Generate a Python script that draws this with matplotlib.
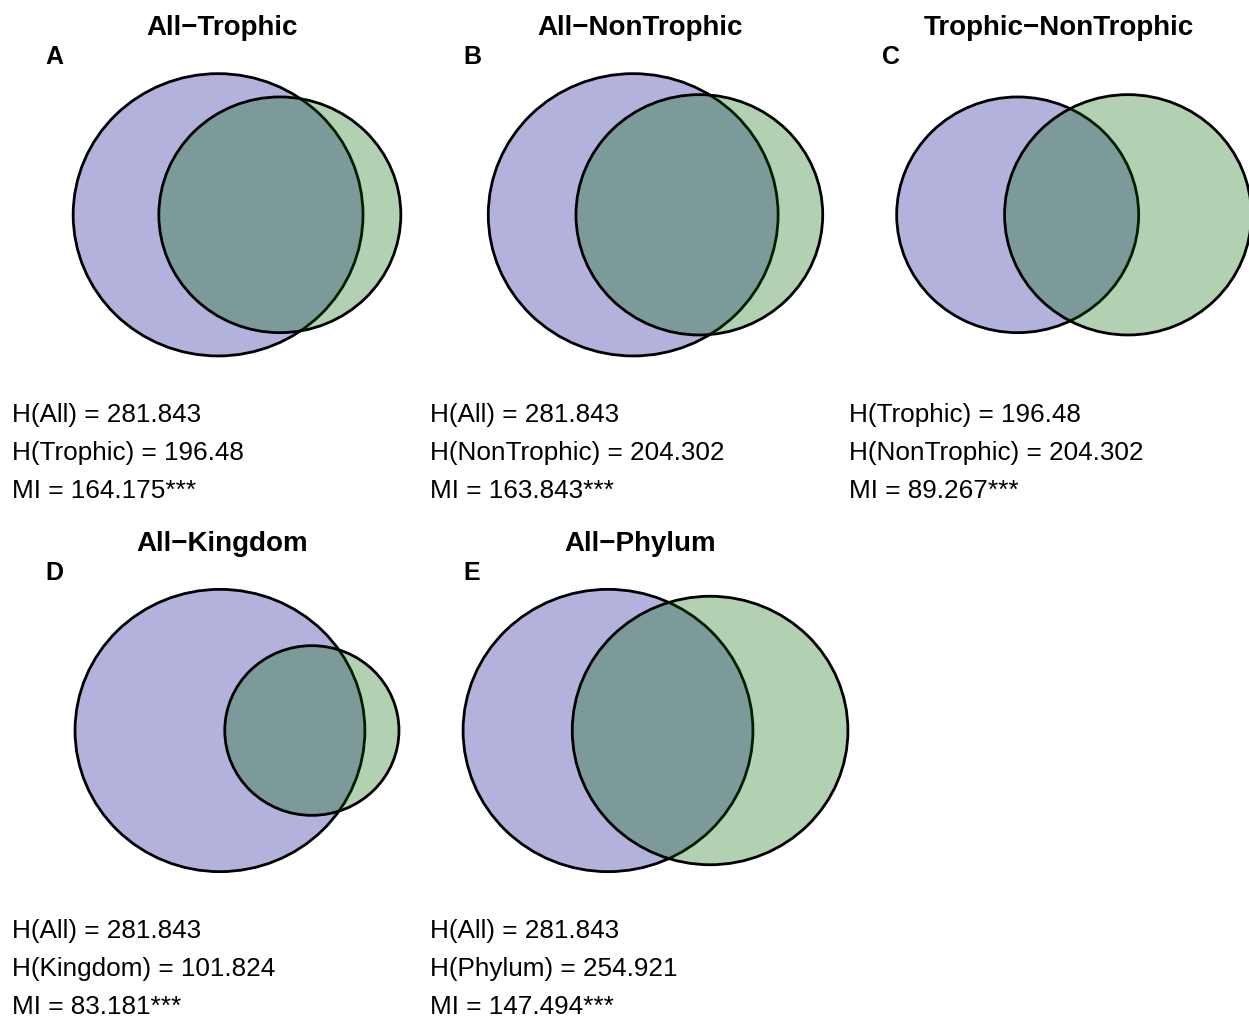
#!/usr/bin/env python3
# -*- coding: utf-8 -*-

import matplotlib
matplotlib.use("Agg")
import matplotlib.pyplot as plt
import numpy as np
from matplotlib.colors import to_rgba
from matplotlib.patches import Ellipse


# entropies and mutual information for each pair of groupings
PANEL_LETTERS = ["A", "B", "C", "D", "E"]
SET1_NAMES = ["All", "All", "Trophic", "All", "All"]
SET2_NAMES = ["Trophic", "NonTrophic", "NonTrophic", "Kingdom", "Phylum"]
H1 = [281.843, 281.843, 196.48, 281.843, 281.843]
H2 = [196.48, 204.302, 204.302, 101.824, 254.921]
MI = [164.175, 163.843, 89.267, 83.181, 147.494]
MI_SIG = ["***", "***", "***", "***", "***"]

FILL1 = to_rgba("darkblue", 0.3)
FILL2 = to_rgba("darkgreen", 0.3)

W, H = 1249, 1017
PX_PER_UNIT = 15.3      # pixels per unit of circle radius (area = entropy)
Y_SQUASH = 0.974        # device aspect of the original plots
COL_STEP = 418.5
ROW_STEP = 515.7


def lens_area(r1, r2, d):
    if d >= r1 + r2:
        return 0.0
    if d <= abs(r1 - r2):
        return np.pi * min(r1, r2) ** 2
    a1 = r1 ** 2 * np.arccos((d ** 2 + r1 ** 2 - r2 ** 2) / (2 * d * r1))
    a2 = r2 ** 2 * np.arccos((d ** 2 + r2 ** 2 - r1 ** 2) / (2 * d * r2))
    k = np.sqrt((-d + r1 + r2) * (d + r1 - r2) * (d - r1 + r2) * (d + r1 + r2))
    return a1 + a2 - 0.5 * k


def centre_distance(r1, r2, overlap):
    # overlap shrinks as the circles move apart, so bisect on d
    lo, hi = abs(r1 - r2), r1 + r2
    for _ in range(200):
        mid = 0.5 * (lo + hi)
        if lens_area(r1, r2, mid) > overlap:
            lo = mid
        else:
            hi = mid
    return 0.5 * (lo + hi)


def draw_panel(ax, idx):
    row, col = divmod(idx, 3)
    x0 = col * COL_STEP
    y0 = row * ROW_STEP

    r1 = np.sqrt(H1[idx] / np.pi)
    r2 = np.sqrt(H2[idx] / np.pi)
    d = centre_distance(r1, r2, MI[idx])

    r1p, r2p, dp = r1 * PX_PER_UNIT, r2 * PX_PER_UNIT, d * PX_PER_UNIT
    cx = 237 + x0
    cy = 214.8 + y0
    left = cx - (r1p + dp + r2p) / 2
    c1 = left + r1p
    c2 = c1 + dp

    for c, r, fill in [(c1, r1p, FILL1), (c2, r2p, FILL2)]:
        ax.add_patch(Ellipse((c, cy), 2 * r, 2 * r * Y_SQUASH,
                             facecolor=fill, edgecolor="black", lw=2.0))

    title = f"{SET1_NAMES[idx]}\u2212{SET2_NAMES[idx]}"
    ax.text(222 + x0, 35 + y0, title, ha="center", va="baseline",
            fontsize=20, fontweight="bold")
    ax.text(45 + x0, 64 + y0, PANEL_LETTERS[idx], ha="left", va="baseline",
            fontsize=18, fontweight="bold")

    lines = [
        f"H({SET1_NAMES[idx]}) = {H1[idx]:g}",
        f"H({SET2_NAMES[idx]}) = {H2[idx]:g}",
        f"MI = {MI[idx]:g}{MI_SIG[idx]}",
    ]
    for k, line in enumerate(lines):
        ax.text(12 + x0, 422 + y0 + 38 * k, line, ha="left", va="baseline",
                fontsize=18.8)


def main():
    plt.rcParams["font.family"] = ["Liberation Sans", "DejaVu Sans"]
    fig = plt.figure(figsize=(W / 100, H / 100), dpi=100)
    ax = fig.add_axes([0, 0, 1, 1])
    ax.set_xlim(0, W)
    ax.set_ylim(H, 0)
    ax.axis("off")

    for idx in range(len(MI)):
        draw_panel(ax, idx)

    fig.savefig("out.png", dpi=100, facecolor="white")
    plt.close(fig)


if __name__ == "__main__":
    main()
